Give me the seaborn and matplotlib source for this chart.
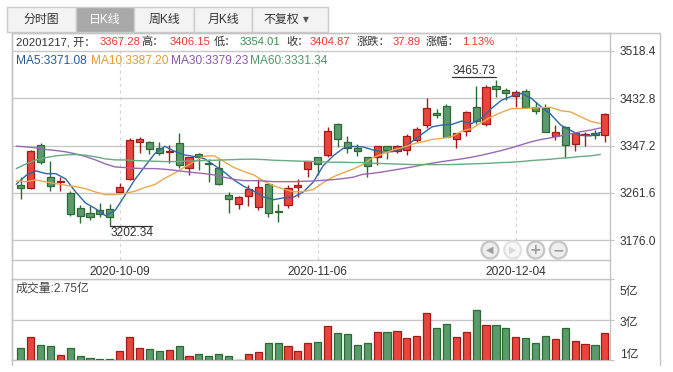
import numpy as np
import pandas as pd
import seaborn as sns
import matplotlib.pyplot as plt
import matplotlib.transforms as mtrans
from matplotlib.patches import Rectangle, Circle
from matplotlib.lines import Line2D

# 日K数据 (2020-09-17 ~ 2020-12-17, 60个交易日)
opens = [3276.1, 3270.0, 3348.7, 3290.6, 3281.0, 3261.5, 3234.3, 3225.2, 3230.7, 3233.1,
         3263.4, 3286.4, 3354.1, 3354.1, 3343.2, 3335.5, 3351.1, 3306.9, 3332.3, 3316.0,
         3306.9, 3257.9, 3241.6, 3256.1, 3235.5, 3278.5, 3228.5, 3239.2, 3271.8, 3304.5,
         3326.9, 3330.5, 3386.8, 3353.5, 3343.2, 3326.9, 3326.9, 3346.8, 3337.8, 3339.6,
         3357.1, 3385.0, 3406.7, 3418.2, 3358.9, 3373.5, 3417.6, 3386.2, 3454.5, 3448.5,
         3437.6, 3446.7, 3417.6, 3415.2, 3365.0, 3381.3, 3350.5, 3365.6, 3370.4, 3367.28]
highs = [3290.6, 3338.5, 3351.1, 3319.0, 3290.6, 3265.2, 3239.2, 3237.3, 3242.8, 3242.2,
         3280.3, 3360.2, 3362.0, 3354.8, 3354.1, 3348.7, 3370.4, 3327.5, 3333.0, 3323.9,
         3321.4, 3264.0, 3256.1, 3275.5, 3286.3, 3279.0, 3241.0, 3276.1, 3287.0, 3320.3,
         3327.5, 3381.3, 3387.4, 3365.0, 3350.5, 3327.5, 3347.4, 3347.4, 3348.0, 3368.0,
         3380.1, 3432.8, 3413.4, 3423.1, 3369.8, 3409.2, 3455.7, 3457.0, 3465.73, 3452.1,
         3448.5, 3449.7, 3426.7, 3422.5, 3385.0, 3381.9, 3369.8, 3372.3, 3375.9, 3406.15]
lows = [3250.1, 3268.2, 3313.6, 3265.2, 3265.2, 3219.8, 3206.5, 3211.9, 3218.6, 3202.34,
        3262.1, 3285.0, 3334.7, 3332.9, 3329.9, 3316.6, 3307.5, 3293.6, 3303.3, 3281.5,
        3275.5, 3224.6, 3233.1, 3237.9, 3230.7, 3217.4, 3208.9, 3234.3, 3254.9, 3290.6,
        3294.8, 3327.5, 3344.4, 3334.7, 3328.7, 3290.6, 3311.8, 3323.9, 3334.7, 3331.1,
        3352.9, 3378.9, 3397.7, 3362.6, 3342.6, 3365.0, 3386.2, 3381.9, 3435.8, 3429.1,
        3417.6, 3415.2, 3404.3, 3371.5, 3357.7, 3324.5, 3337.2, 3346.8, 3358.9, 3354.01]
closes = [3270.0, 3337.8, 3317.8, 3274.2, 3282.5, 3222.8, 3219.8, 3218.0, 3223.4, 3218.6,
          3272.4, 3357.7, 3359.6, 3341.4, 3334.1, 3337.0, 3312.4, 3326.9, 3326.9, 3314.5,
          3277.9, 3250.7, 3254.3, 3269.4, 3272.4, 3224.6, 3227.0, 3270.6, 3275.5, 3319.6,
          3314.2, 3374.1, 3359.6, 3343.2, 3337.8, 3310.5, 3346.8, 3339.6, 3346.8, 3363.8,
          3377.7, 3414.6, 3403.1, 3363.2, 3369.2, 3408.6, 3391.6, 3452.7, 3450.3, 3443.0,
          3444.9, 3417.6, 3410.4, 3372.3, 3372.3, 3348.7, 3369.2, 3367.4, 3366.2, 3404.87]

ma5 = [3277.3, 3293.6, 3301.5, 3296.6, 3296.5, 3287.0, 3263.4, 3243.5, 3233.3, 3220.5,
       3230.4, 3258.0, 3286.3, 3309.9, 3333.0, 3346.0, 3336.9, 3330.4, 3327.5, 3323.5,
       3311.7, 3299.4, 3284.9, 3273.4, 3264.9, 3254.3, 3249.5, 3252.8, 3254.0, 3263.5,
       3281.4, 3310.8, 3328.6, 3342.1, 3345.8, 3345.0, 3339.6, 3335.6, 3336.3, 3341.5,
       3354.9, 3368.5, 3381.2, 3384.5, 3385.6, 3391.7, 3387.1, 3397.1, 3414.5, 3429.2,
       3436.5, 3441.7, 3433.2, 3417.6, 3403.5, 3384.3, 3374.6, 3366.0, 3364.8, 3371.08]
ma10 = [3283.3, 3282.1, 3285.1, 3281.5, 3278.5, 3275.5, 3273.0, 3269.4, 3263.4, 3258.5,
        3258.7, 3260.7, 3264.9, 3271.6, 3276.8, 3288.2, 3297.5, 3308.4, 3318.7, 3328.3,
        3328.8, 3318.1, 3307.6, 3300.4, 3294.2, 3283.0, 3274.5, 3268.8, 3263.7, 3264.2,
        3267.8, 3280.2, 3290.7, 3298.1, 3304.6, 3313.2, 3325.2, 3332.1, 3339.2, 3343.6,
        3350.0, 3354.0, 3358.4, 3360.4, 3363.5, 3373.3, 3377.8, 3389.1, 3399.5, 3407.4,
        3414.1, 3414.4, 3415.2, 3416.1, 3416.4, 3410.4, 3408.1, 3399.6, 3391.2, 3387.20]
ma30 = [3346.2, 3345.0, 3343.2, 3340.2, 3338.4, 3336.0, 3332.3, 3327.5, 3321.4, 3314.2,
        3308.7, 3307.5, 3306.3, 3305.7, 3305.7, 3304.5, 3302.7, 3300.3, 3298.4, 3296.6,
        3294.2, 3290.0, 3286.3, 3283.9, 3283.9, 3283.3, 3282.1, 3282.1, 3282.1, 3282.7,
        3283.3, 3284.5, 3285.7, 3287.6, 3290.0, 3295.4, 3297.2, 3299.7, 3302.7, 3305.7,
        3308.7, 3312.4, 3315.4, 3318.4, 3320.8, 3323.3, 3326.3, 3329.9, 3334.1, 3338.4,
        3343.2, 3348.7, 3354.1, 3358.3, 3361.4, 3365.0, 3368.6, 3372.3, 3375.3, 3379.23]
ma60 = [3305.7, 3314.2, 3321.4, 3325.7, 3328.7, 3330.5, 3331.1, 3329.9, 3326.9, 3323.3,
        3321.4, 3321.4, 3320.2, 3319.6, 3319.0, 3318.4, 3318.4, 3319.0, 3319.6, 3320.2,
        3320.8, 3321.4, 3322.0, 3322.7, 3322.7, 3322.0, 3320.8, 3320.2, 3319.6, 3319.0,
        3318.4, 3317.8, 3317.2, 3317.2, 3316.6, 3316.6, 3315.4, 3314.8, 3314.2, 3313.6,
        3313.0, 3313.0, 3313.0, 3313.0, 3313.0, 3313.6, 3314.2, 3314.8, 3315.4, 3316.6,
        3317.2, 3318.4, 3320.2, 3321.4, 3322.7, 3324.5, 3325.7, 3327.5, 3328.7, 3331.34]

# 成交量 (亿)
volumes = [1.58, 2.12, 1.73, 1.68, 1.23, 1.58, 1.18, 1.08, 1.03, 1.03,
           1.43, 2.12, 1.58, 1.53, 1.43, 1.48, 1.68, 1.18, 1.28, 1.18,
           1.28, 1.18, 1.02, 1.28, 1.38, 1.82, 1.82, 1.68, 1.43, 1.82,
           1.87, 2.66, 2.32, 2.27, 1.73, 1.82, 2.37, 2.37, 2.42, 2.07,
           2.17, 3.31, 2.56, 2.76, 2.12, 2.37, 3.45, 2.71, 2.71, 2.56,
           2.12, 2.07, 1.82, 2.17, 2.02, 2.56, 1.92, 1.77, 1.73, 2.32]

date_tick_pos = [10, 30, 50]
date_tick_labels = ['2020-10-09', '2020-11-06', '2020-12-04']
price_ticks = [3176.0, 3261.6, 3347.2, 3432.8, 3518.4]
vol_ticks = [1, 3, 5]
vol_tick_labels = ['1亿', '3亿', '5亿']
last_date = '20201217'
change_txt = '37.89'
pct_txt = '1.13%'
vol_txt = '成交量:2.75亿'

# 颜色
RED, RED_DK = '#e8453c', '#a31a1a'
GRN, GRN_DK = '#5b9a6c', '#2b6a30'
RED_T, GRN_T, DARK = '#e8382f', '#3b8a4f', '#333333'
MA_COLORS = ['#2d68a6', '#eaa84c', '#9a68b4', '#6aa983']
MA_TXT = ['#255a9b', '#e69b34', '#8e57a8', '#4f9a6b']
FRAME = '#c4c4c4'

sns.set_theme(style='white')
plt.rcParams['font.family'] = ['Liberation Sans', 'Noto Sans CJK SC', 'DejaVu Sans']
FS = 8.6
FS_INFO = 8.1

W, H = 673, 372
fig = plt.figure(figsize=(W / 100, H / 100), dpi=100)


def fx(x):
    return x / W


def fy(y):
    return 1 - y / H


ax = fig.add_axes([fx(12), fy(260), fx(610) - fx(12), fy(33) - fy(260)])
axv = fig.add_axes([fx(12), fy(360), fx(610) - fx(12), fy(279) - fy(360)])

o = np.array(opens)
h = np.array(highs)
l = np.array(lows)
c = np.array(closes)
idx = np.arange(len(c))
up = c >= o
fill = np.where(up, RED, GRN)
edge = np.where(up, RED_DK, GRN_DK)

# K线
ax.vlines(idx, l, h, colors=edge, lw=1.0, zorder=3)
ax.bar(idx, np.maximum(np.abs(c - o), 0.9), bottom=np.minimum(o, c), width=0.72,
       color=fill, edgecolor=edge, linewidth=0.9, zorder=4)

# 均线
ma_df = pd.DataFrame({'x': idx - 0.45, 'MA5': ma5, 'MA10': ma10, 'MA30': ma30, 'MA60': ma60})
ma_long = ma_df.melt(id_vars='x', var_name='ma', value_name='v')
sns.lineplot(data=ma_long, x='x', y='v', hue='ma', palette=MA_COLORS, legend=False,
             linewidth=1.0, ax=ax, zorder=5)

# 最高/最低标注
ih, il = int(np.argmax(h)), int(np.argmin(l))
ax.plot([ih - 4.4, ih], [h[ih] + 5, h[ih] + 5], color=DARK, lw=0.9, zorder=6)
ax.text(ih, h[ih] + 6, f'{h[ih]:.2f}', ha='right', va='bottom', fontsize=FS, color=DARK)
ax.plot([il, il + 4.3], [l[il] - 1, l[il] - 1], color=DARK, lw=0.9, zorder=6)
ax.text(il + 0.1, l[il] - 3, f'{l[il]:.2f}', ha='left', va='top', fontsize=FS, color=DARK)

ax.set_xlim(-0.88, 59.52)
ax.set_ylim(3140.4, 3550.9)
ax.set_yticks(price_ticks)
ax.set_yticklabels([f'{t:.1f}' for t in price_ticks])
ax.set_xticks(date_tick_pos)
ax.set_xticklabels(date_tick_labels)
ax.yaxis.tick_right()
ax.tick_params(axis='y', right=True, length=3, width=0.8, color=FRAME, pad=4,
               labelsize=FS, labelcolor=DARK)
ax.tick_params(axis='x', bottom=False, length=0, pad=4, labelsize=FS, labelcolor=DARK)
ax.yaxis.grid(True, color='#c8c8c8', lw=1.0)
ax.xaxis.grid(True, color='#d6d6d6', lw=0.8, linestyle=(0, (3, 3)))
ax.set_xlabel('')
ax.set_ylabel('')
for s in ax.spines.values():
    s.set_color(FRAME)
    s.set_linewidth(1.0)

# 成交量
axv.bar(idx, volumes, width=0.72, color=fill, edgecolor=edge, linewidth=0.9, zorder=3)
axv.set_xlim(-0.88, 59.52)
axv.set_ylim(1, 5)
axv.set_xticks([])
axv.set_yticks(vol_ticks)
axv.set_yticklabels(vol_tick_labels)
axv.yaxis.tick_right()
axv.tick_params(axis='y', right=True, length=3, width=0.8, color=FRAME, pad=4,
                labelsize=FS, labelcolor=DARK)
axv.yaxis.grid(True, color='#c8c8c8', lw=1.0)
for lab, dy in zip(axv.get_yticklabels(), [5.0, -1.5, -8.5]):
    lab.set_transform(lab.get_transform() + mtrans.ScaledTranslation(0, dy / 72, fig.dpi_scale_trans))
for s in axv.spines.values():
    s.set_color(FRAME)
    s.set_linewidth(1.0)
fig.text(fx(16), fy(289), vol_txt, fontsize=FS, color='#444444', va='center')

# 外框
for xs, ys in [([12, 12], [33, 365]), ([660, 660], [33, 365]), ([12, 660], [33, 33]),
               ([610, 610], [260, 279])]:
    fig.add_artist(Line2D([fx(v) for v in xs], [fy(v) for v in ys], color=FRAME, lw=1.0))

# 标签页
tabs = [('分时图', 7, 76, 41.5), ('日K线', 76, 134, 105), ('周K线', 134, 194, 164),
        ('月K线', 194, 252, 223), ('不复权', 252, 328, 281)]
for name, x0, x1, cx in tabs:
    active = name == '日K线'
    fig.add_artist(Rectangle((fx(x0), fy(32)), fx(x1) - fx(x0), fy(7) - fy(32),
                             facecolor='#a9a9a9' if active else '#f3f3f3',
                             edgecolor='#cccccc', lw=1.0))
    fig.text(fx(cx), fy(20), name, ha='center', va='center', fontsize=FS,
             color='white' if active else DARK)
fig.text(fx(306), fy(20), '▼', ha='center', va='center', fontsize=5.5, color='#555555',
         family='DejaVu Sans')

# 当日信息
info = [(16, f'{last_date}, 开：', DARK), (99.3, f'{opens[-1]:.2f}', RED_T),
        (141.7, '高：', DARK), (169.3, f'{highs[-1]:.2f}', RED_T),
        (213.3, '低：', DARK), (240, f'{lows[-1]:.2f}', GRN_T),
        (286.7, '收：', DARK), (310, f'{closes[-1]:.2f}', RED_T),
        (356.7, '涨跌：', DARK), (392.7, change_txt, RED_T),
        (426, '涨幅：', DARK), (461.7, pct_txt, RED_T)]
for x, s, col in info:
    fig.text(fx(x), fy(42), s, fontsize=FS_INFO, color=col, va='center')

ma_last = [('MA5', ma5[-1]), ('MA10', ma10[-1]), ('MA30', ma30[-1]), ('MA60', ma60[-1])]
for x, (name, v), col in zip([16, 90.7, 170.7, 250], ma_last, MA_TXT):
    fig.text(fx(x), fy(61), f'{name}:{v:.2f}', fontsize=FS, color=col, va='center')

# 导航按钮
tr = mtrans.IdentityTransform()
buttons = [(490, '◀', False), (512.7, '▶', True), (535.7, '+', False), (558.3, '−', False)]
for bx, sym, off in buttons:
    fig.add_artist(Circle((bx, H - 250), 8.5, transform=tr,
                          facecolor='#f7f7f7' if off else '#eeeeee',
                          edgecolor='#e2e2e2' if off else '#c6c6c6', lw=1.6))
    fig.text(fx(bx), fy(250), sym, ha='center', va='center', fontsize=7 if sym in '◀▶' else 10,
             color='#d8d8d8' if off else '#9c9c9c', family='DejaVu Sans', fontweight='bold')

fig.savefig('out.png', dpi=100)
